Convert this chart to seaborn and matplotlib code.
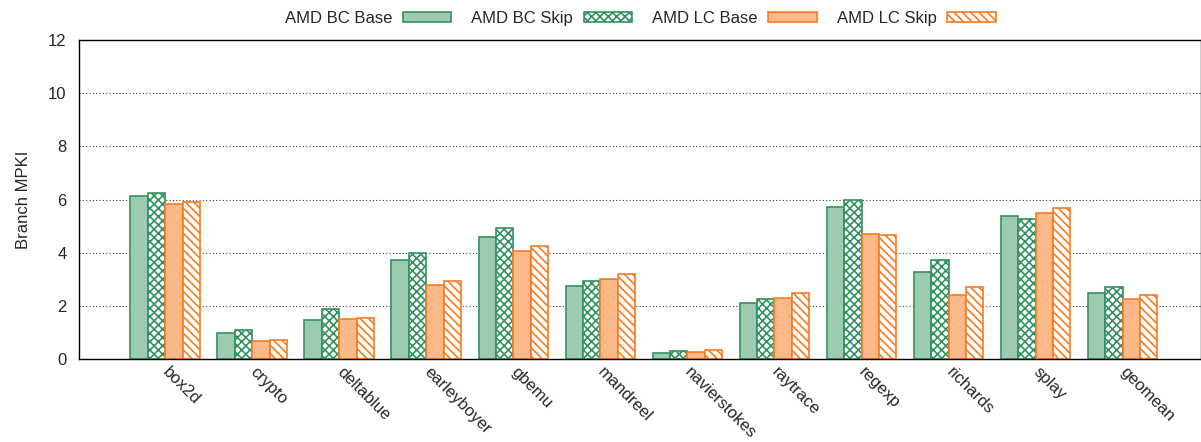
import matplotlib
matplotlib.use("Agg")
import matplotlib.pyplot as plt
from matplotlib.patches import Patch
import seaborn as sns
import pandas as pd

benchmarks = ["box2d", "crypto", "deltablue", "earleyboyer", "gbemu", "mandreel",
              "navierstokes", "raytrace", "regexp", "richards", "splay", "geomean"]
series = ["AMD BC Base", "AMD BC Skip", "AMD LC Base", "AMD LC Skip"]

bc_base = [6.14, 0.98, 1.48, 3.73, 4.60, 2.74, 0.24, 2.12, 5.73, 3.28, 5.39, 2.47]
bc_skip = [6.23, 1.09, 1.88, 3.97, 4.94, 2.92, 0.29, 2.24, 6.00, 3.71, 5.26, 2.70]
lc_base = [5.82, 0.68, 1.49, 2.79, 4.05, 3.02, 0.25, 2.30, 4.72, 2.39, 5.50, 2.26]
lc_skip = [5.89, 0.70, 1.56, 2.92, 4.24, 3.21, 0.33, 2.49, 4.68, 2.72, 5.69, 2.39]

yticks = [0, 2, 4, 6, 8, 10, 12]

green_fill = "#9ccbb0"
green_edge = "#33925f"
orange_fill = "#fdb888"
orange_edge = "#fb7a22"

styles = {
    "AMD BC Base": dict(facecolor=green_fill, edgecolor=green_edge, hatch=None),
    "AMD BC Skip": dict(facecolor="white", edgecolor=green_edge, hatch="xxxx"),
    "AMD LC Base": dict(facecolor=orange_fill, edgecolor=orange_edge, hatch=None),
    "AMD LC Skip": dict(facecolor="white", edgecolor=orange_edge, hatch="\\\\\\\\"),
}

df = pd.DataFrame({
    "benchmark": benchmarks * 4,
    "series": sum([[s] * len(benchmarks) for s in series], []),
    "mpki": bc_base + bc_skip + lc_base + lc_skip,
})

sns.set_style("white")
plt.rcParams["font.family"] = ["Liberation Sans", "DejaVu Sans"]
plt.rcParams["hatch.linewidth"] = 1.2

fig = plt.figure(figsize=(12.01, 4.42), dpi=100)
ax = fig.add_axes([79 / 1201, 1 - 359 / 442, 1 - 79 / 1201, (359 - 40) / 442])

sns.barplot(data=df, x="benchmark", y="mpki", hue="series", order=benchmarks,
            hue_order=series, width=0.8, ax=ax, legend=False, saturation=1)

for name, container in zip(series, ax.containers):
    st = styles[name]
    for bar in container:
        bar.set_facecolor(st["facecolor"])
        bar.set_edgecolor(st["edgecolor"])
        bar.set_linewidth(1.2)
        if st["hatch"]:
            bar.set_hatch(st["hatch"])

ax.set_ylim(0, 12)
ax.set_xlim(-0.99, 11.9)
ax.set_yticks(yticks)
ax.set_yticklabels([str(t) for t in yticks], fontsize=12)
for y in yticks[1:-1]:
    ax.axhline(y, color="#444444", linestyle=(0, (1, 2)), linewidth=0.8, zorder=0)

ax.set_xlabel("")
ax.set_ylabel("Branch MPKI", fontsize=12, labelpad=12)
ax.set_xticks(range(len(benchmarks)))
ax.set_xticklabels(benchmarks, fontsize=12, rotation=-45, ha="left", va="center",
                   rotation_mode="anchor")
ax.tick_params(axis="x", length=0, pad=8)
ax.tick_params(axis="y", length=0, pad=9)

for side in ["left", "top", "bottom", "right"]:
    ax.spines[side].set_visible(True)
    ax.spines[side].set_color("black")
    ax.spines[side].set_linewidth(1.0)

handles = [Patch(facecolor=styles[s]["facecolor"], edgecolor=styles[s]["edgecolor"],
                 hatch=styles[s]["hatch"], linewidth=1.2) for s in series]
fig.legend(handles, series, loc="upper center", bbox_to_anchor=(0.533, 1.01), ncol=4,
           frameon=False, markerfirst=False, fontsize=12, handlelength=2.9,
           handleheight=0.55, columnspacing=1.2, handletextpad=0.65)

fig.savefig("out.png", dpi=100)
